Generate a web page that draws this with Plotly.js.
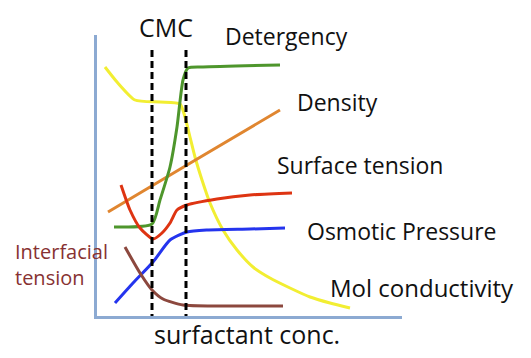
<!DOCTYPE html>
<html><head><meta charset="utf-8">
<script src="https://cdn.plot.ly/plotly-3.0.1.min.js"></script>
<style>body{margin:0;background:#fff}#c{width:531px;height:358px}</style>
</head><body><div id="c"></div>
<script>
// schematic units: x = surfactant concentration (arbitrary), y = property value (arbitrary)
const yellowX = [8, 20, 38, 63, 83, 88, 93, 98, 105, 113, 126, 140, 156, 173, 193, 213, 233, 253];
const yellowY = [249, 234, 216, 214, 212, 199, 179, 159, 136, 113, 86, 66, 49, 38, 28, 19, 13, 8];
const greenX = [17, 55, 63, 73, 80, 86, 91, 106, 183];
const greenY = [89, 92, 116, 149, 189, 236, 248, 249, 251];
const orangeX = [11, 90, 183];
const orangeY = [104, 151, 206];
const redX = [24, 33, 43, 56, 65, 73, 80, 90, 120, 153, 195];
const redY = [131, 106, 88, 77, 83, 93, 106, 111, 117, 121, 123];
const blueX = [18, 36, 56, 73, 90, 110, 153, 188];
const blueY = [13, 33, 54, 76, 84, 86, 87, 88];
const brownX = [28, 43, 55, 66, 86, 123, 186];
const brownY = [69, 43, 26, 17, 11, 10, 10];
const cmcX = [55, 89];
const dashY = [266, -2];
const labels = ["CMC", "Detergency", "Density", "Surface tension", "Osmotic Pressure", "Mol conductivity", "surfactant conc."];
const labelX = [69, 189, 240, 263, 304, 325, 149.5];
const labelY = [289, 280.5, 214, 151, 85, 29, -18];
const labelSize = [25, 23, 23, 23, 23, 24, 25];
const XR = 305, YR = 281;

const line = (x, y, c) => ({x, y, mode: 'lines', line: {color: c, width: 3, shape: 'spline', smoothing: 0.6}, hoverinfo: 'skip', cliponaxis: false});
const traces = [
  line(yellowX, yellowY, 'rgb(242,238,50)'),
  line(orangeX, orangeY, 'rgb(224,134,48)'),
  line(greenX, greenY, 'rgb(78,150,44)'),
  line(redX, redY, 'rgb(222,52,18)'),
  line(blueX, blueY, 'rgb(36,52,238)'),
  line(brownX, brownY, 'rgb(140,72,62)')
];
cmcX.forEach(v => traces.push({x: [v, v], y: dashY, mode: 'lines', line: {color: '#000', width: 3, dash: '7px,4px'}, hoverinfo: 'skip', cliponaxis: false}));

const fam = 'Open Sans, sans-serif';
const annotations = labels.map((t, i) => ({xref: 'paper', yref: 'paper', x: labelX[i] / XR, y: labelY[i] / YR, text: t, showarrow: false, xanchor: 'center', yanchor: 'middle', font: {family: fam, size: labelSize[i], color: '#111'}}));
annotations.push({xref: 'paper', yref: 'paper', x: -84 / XR, y: 52 / YR, text: 'Interfacial<br>tension', showarrow: false, xanchor: 'left', yanchor: 'middle', align: 'left', font: {family: fam, size: 20, color: 'rgb(135,50,50)'}});

Plotly.newPlot('c', traces, {
  width: 531, height: 358,
  margin: {l: 97, r: 129, t: 35, b: 42},
  showlegend: false,
  paper_bgcolor: '#fff', plot_bgcolor: '#fff',
  xaxis: {range: [0, XR], showgrid: false, zeroline: false, showticklabels: false, ticks: '', showline: true, linecolor: 'rgb(140,170,210)', linewidth: 3},
  yaxis: {range: [0, YR], showgrid: false, zeroline: false, showticklabels: false, ticks: '', showline: true, linecolor: 'rgb(140,170,210)', linewidth: 3},
  annotations: annotations
}, {staticPlot: true});
</script></body></html>
